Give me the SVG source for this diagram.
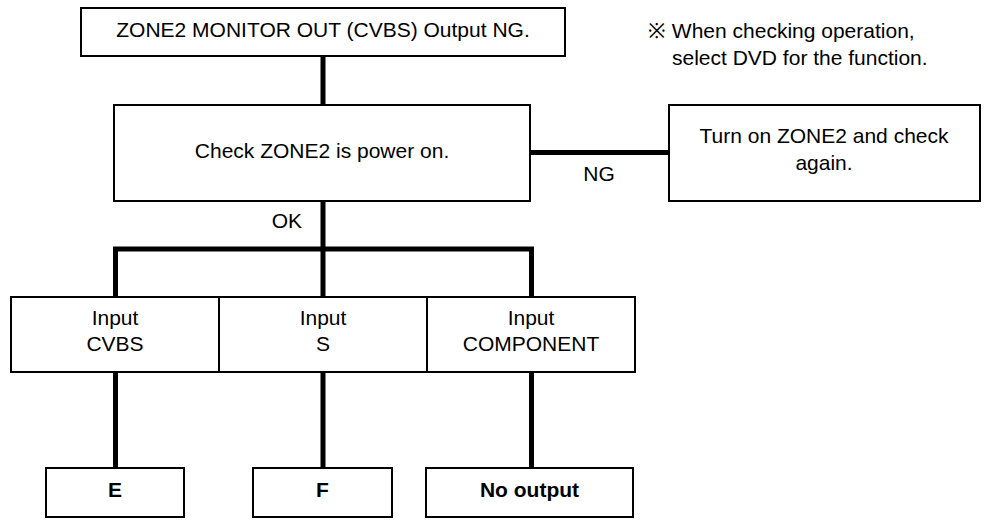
<svg xmlns="http://www.w3.org/2000/svg" width="986" height="520" viewBox="0 0 986 520">
<style>
  text { font-family: "Liberation Sans", Arial, sans-serif; font-size: 21px; fill: #000; }
  .c { text-anchor: middle; }
  .b { font-weight: bold; }
  .box { fill: #fff; stroke: #000; stroke-width: 2; }
  .conn { stroke: #000; stroke-width: 5; fill: none; }
  .thin { stroke: #000; stroke-width: 2; }
</style>
<rect width="986" height="520" fill="#fff"/>
<g id="connectors">
  <line class="conn" x1="323" y1="56" x2="323" y2="105"/>
  <line class="conn" x1="530" y1="152.5" x2="669" y2="152.5"/>
  <line class="conn" x1="323" y1="201" x2="323" y2="249"/>
  <polyline class="conn" points="115.5,297 115.5,249 531.5,249 531.5,297"/>
  <line class="conn" x1="323" y1="249" x2="323" y2="297"/>
  <line class="conn" x1="115.5" y1="372" x2="115.5" y2="468"/>
  <line class="conn" x1="323" y1="372" x2="323" y2="468"/>
  <line class="conn" x1="531.5" y1="372" x2="531.5" y2="468"/>
  <text class="c" x="599" y="180.5">NG</text>
  <text x="302" y="228" text-anchor="end">OK</text>
</g>
<g id="start">
  <rect class="box" x="81" y="8" width="484" height="48"/>
  <text class="c" x="323" y="37">ZONE2 MONITOR OUT (CVBS) Output NG.</text>
</g>
<g id="note">
  <text x="648" y="38">※ When checking operation,</text>
  <text x="672" y="65">select DVD for the function.</text>
</g>
<g id="check">
  <rect class="box" x="114" y="105" width="416" height="96"/>
  <text class="c" x="322" y="158">Check ZONE2 is power on.</text>
</g>
<g id="turnon">
  <rect class="box" x="669" y="105" width="311" height="96"/>
  <text class="c" x="824" y="143">Turn on ZONE2 and check</text>
  <text class="c" x="824" y="170">again.</text>
</g>
<g id="inputs">
  <rect class="box" x="11" y="297" width="624" height="75"/>
  <line class="thin" x1="219" y1="297" x2="219" y2="372"/>
  <line class="thin" x1="427" y1="297" x2="427" y2="372"/>
</g>
<g id="input-cvbs">
  <text class="c" x="115" y="325">Input</text>
  <text class="c" x="115" y="351">CVBS</text>
</g>
<g id="input-s">
  <text class="c" x="323" y="325">Input</text>
  <text class="c" x="323" y="351">S</text>
</g>
<g id="input-component">
  <text class="c" x="531" y="325">Input</text>
  <text class="c" x="531" y="351">COMPONENT</text>
</g>
<g id="result-e">
  <rect class="box" x="46" y="468" width="138" height="49"/>
  <text class="c b" x="115" y="497">E</text>
</g>
<g id="result-f">
  <rect class="box" x="253" y="468" width="139" height="49"/>
  <text class="c b" x="322.5" y="497">F</text>
</g>
<g id="result-none">
  <rect class="box" x="426" y="468" width="207" height="49"/>
  <text class="c b" x="529.5" y="497">No output</text>
</g>
</svg>
